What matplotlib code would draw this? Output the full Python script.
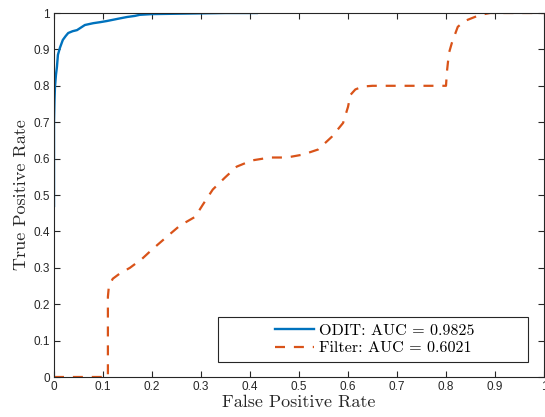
import matplotlib
matplotlib.use("Agg")
import matplotlib.pyplot as plt
from matplotlib.patches import Rectangle

plt.rcParams['font.family'] = ['Liberation Sans', 'DejaVu Sans']

# ODIT ROC curve
odit_fpr = [0.0, 0.0, 0.001, 0.002, 0.004, 0.006, 0.008, 0.012, 0.018, 0.024, 0.029, 0.038,
            0.047, 0.055, 0.063, 0.08, 0.095, 0.108, 0.13, 0.149, 0.165, 0.175, 0.2, 0.25,
            0.3, 0.35, 0.414]
odit_tpr = [0.47, 0.70, 0.76, 0.797, 0.83, 0.852, 0.885, 0.904, 0.926, 0.937, 0.945, 0.950,
            0.953, 0.960, 0.967, 0.972, 0.975, 0.978, 0.984, 0.989, 0.992, 0.995, 0.997, 0.998,
            0.999, 1.0, 1.0]

# Filter ROC curve
filt_fpr = [0.0, 0.11, 0.11, 0.112, 0.12, 0.135, 0.155, 0.18, 0.2, 0.23, 0.257, 0.288, 0.304,
            0.324, 0.349, 0.373, 0.404, 0.441, 0.475, 0.508, 0.539, 0.567, 0.59, 0.6, 0.605,
            0.615, 0.63, 0.65, 0.7, 0.8, 0.802, 0.806, 0.812, 0.824, 0.838, 0.853, 0.87, 0.89,
            0.95, 1.0]
filt_tpr = [0.0, 0.0, 0.22, 0.25, 0.27, 0.285, 0.30, 0.325, 0.35, 0.385, 0.416, 0.44, 0.474,
            0.515, 0.548, 0.578, 0.595, 0.603, 0.603, 0.611, 0.625, 0.66, 0.698, 0.742, 0.775,
            0.79, 0.798, 0.80, 0.80, 0.80, 0.84, 0.89, 0.918, 0.962, 0.978, 0.986, 0.995, 1.0,
            1.0, 1.0]

odit_label = 'ODIT: AUC = 0.9825'
filt_label = 'Filter: AUC = 0.6021'
ticks = [0, 0.1, 0.2, 0.3, 0.4, 0.5, 0.6, 0.7, 0.8, 0.9, 1]
tick_labels = ['0', '0.1', '0.2', '0.3', '0.4', '0.5', '0.6', '0.7', '0.8', '0.9', '1']

serif = ['cmr10', 'DejaVu Serif']

fig = plt.figure(figsize=(5.45, 4.17), dpi=100)
ax = fig.add_axes([54/545, 40/417, 490/545, 364/417])

ax.plot(odit_fpr, odit_tpr, color='#0072BD', lw=1.7, label=odit_label, solid_joinstyle='round')
ax.plot(filt_fpr, filt_tpr, color='#D95319', lw=1.6, ls=(0, (4.5, 4)), label=filt_label)

ax.set_xlim(0, 1)
ax.set_ylim(0, 1)
ax.set_xticks(ticks)
ax.set_xticklabels(tick_labels)
ax.set_yticks(ticks)
ax.set_yticklabels(tick_labels)
ax.tick_params(direction='in', length=4, width=0.8, colors='#262626', labelsize=8.5,
               top=True, right=True, pad=3)
for s in ax.spines.values():
    s.set_color('#262626')
    s.set_linewidth(0.8)

ax.set_xlabel('False Positive Rate', fontsize=13, color='#262626', labelpad=1, family=serif)
ax.set_ylabel('True Positive Rate', fontsize=13, color='#262626', labelpad=3, family=serif)

# MATLAB-style legend box: wide frame with centred content
ax.add_patch(Rectangle((0.335, 0.041), 0.632, 0.124, transform=ax.transAxes,
                       facecolor='white', edgecolor='#262626', lw=0.8, zorder=4))
leg = ax.legend(loc='center', bbox_to_anchor=(0.655, 0.103), frameon=False,
                prop={'family': serif, 'size': 11.6},
                borderpad=0.0, labelspacing=0.2, handlelength=2.4, handletextpad=0.3,
                borderaxespad=0)
leg.set_zorder(5)

fig.savefig('out.png', dpi=100)
